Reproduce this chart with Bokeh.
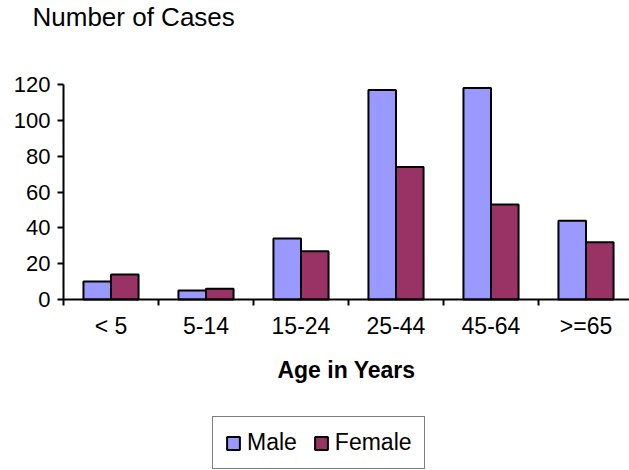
from bokeh.plotting import figure
from bokeh.models import (FixedTicker, Range1d, Legend, LegendItem, ColumnDataSource, Label,
                          LinearAxis)
from bokeh.embed import file_html
from bokeh.resources import INLINE

categories = ["< 5", "5-14", "15-24", "25-44", "45-64", ">=65"]
male = [10, 5, 34, 117, 118, 44]
female = [14, 6, 27, 74, 53, 32]
y_ticks = [0, 20, 40, 60, 80, 100, 120]

n = len(categories)
bw = 0.29
centers = [i + 0.5 for i in range(n)]

W, H = 629, 470
x0_px, y0_px, y120_px = 63, 299, 84
cat_px = 95.0
ppu = (y0_px - y120_px) / 120.0

p = figure(width=W, height=H, output_backend="svg", toolbar_location=None,
           x_range=Range1d(-x0_px / cat_px, (W - x0_px) / cat_px),
           y_range=Range1d(-(H - y0_px) / ppu, y0_px / ppu),
           min_border=0, x_axis_location=None, y_axis_location=None)
p.outline_line_color = None
p.xgrid.grid_line_color = None
p.ygrid.grid_line_color = None

src = ColumnDataSource(dict(c=centers, m=male, f=female,
                            xm=[c - bw / 2 for c in centers], xf=[c + bw / 2 for c in centers]))
rm = p.vbar(x="xm", top="m", width=bw, source=src, fill_color="#9999FF", line_color="black", line_width=2)
rf = p.vbar(x="xf", top="f", width=bw, source=src, fill_color="#993366", line_color="black", line_width=2)

xa = LinearAxis(fixed_location=0, bounds=(0, n))
xa.ticker = FixedTicker(ticks=centers, minor_ticks=list(range(n + 1)))
xa.major_label_overrides = {c: lab for c, lab in zip(centers, categories)}
xa.major_tick_out = 0
xa.major_tick_in = 0
xa.minor_tick_out = 6
xa.minor_tick_in = 0
xa.minor_tick_line_width = 2
xa.axis_line_width = 2
xa.major_label_text_font = "Liberation Sans"
xa.major_label_text_font_size = "23px"
xa.major_label_text_color = "black"
xa.major_label_standoff = 7
xa.axis_label = "Age in Years"
xa.axis_label_text_font = "Liberation Sans"
xa.axis_label_text_font_style = "bold"
xa.axis_label_text_font_size = "23px"
xa.axis_label_text_color = "black"
xa.axis_label_standoff = 15
p.add_layout(xa, "below")

ya = LinearAxis(fixed_location=0, bounds=(0, 120))
ya.ticker = FixedTicker(ticks=y_ticks)
ya.minor_tick_line_color = None
ya.major_tick_out = 6
ya.major_tick_in = 0
ya.major_tick_line_width = 2
ya.axis_line_width = 2
ya.major_label_text_font = "Liberation Sans"
ya.major_label_text_font_size = "22px"
ya.major_label_text_color = "black"
ya.major_label_standoff = 7
p.add_layout(ya, "left")

title = Label(x=(32 - x0_px) / cat_px, y=(y0_px - 16) / ppu, text="Number of Cases",
              text_font="Liberation Sans", text_font_size="26px", text_color="black",
              text_baseline="middle", text_align="left")
p.add_layout(title)

legend = Legend(items=[LegendItem(label="Male", renderers=[rm]), LegendItem(label="Female", renderers=[rf])],
                orientation="horizontal", location=(212, 1))
legend.border_line_color = "black"
legend.border_line_width = 1.5
legend.label_text_font = "Liberation Sans"
legend.label_text_font_size = "23px"
legend.label_text_color = "black"
legend.label_height = 26
legend.glyph_width = 16
legend.glyph_height = 16
legend.spacing = 16
legend.label_standoff = 6
legend.padding = 12
legend.margin = 0
p.add_layout(legend, "center")

with open("out.html", "w") as fh:
    fh.write(file_html(p, INLINE))
